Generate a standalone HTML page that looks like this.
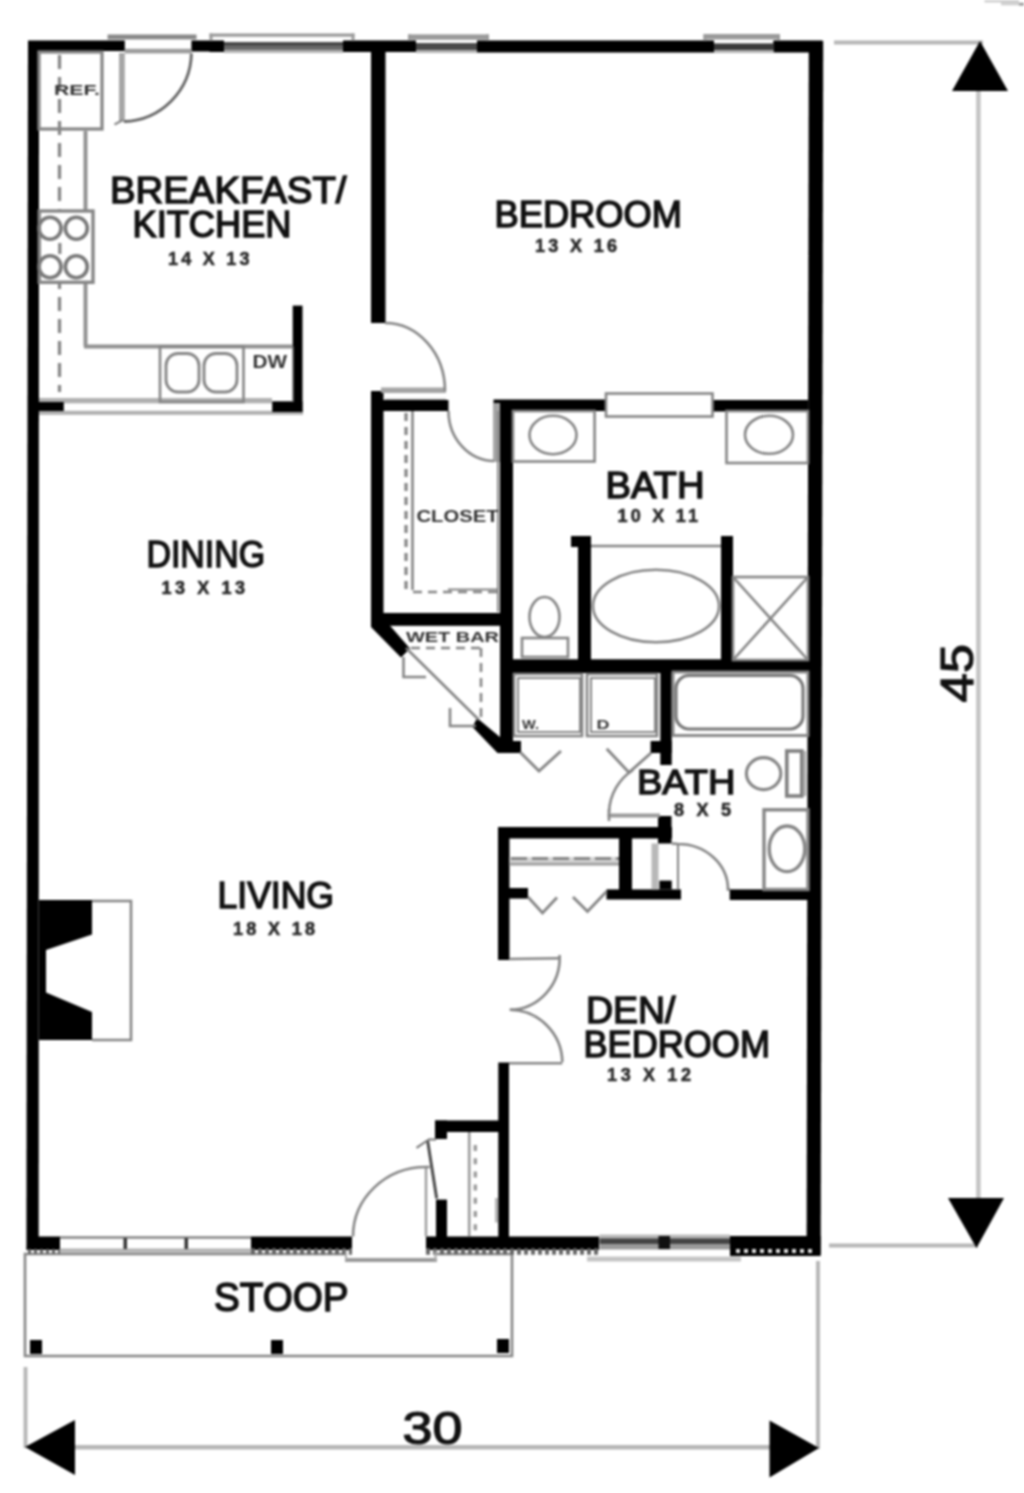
<!DOCTYPE html>
<html lang="en"><head><meta charset="utf-8"><title>Floor plan</title>
<style>
html,body{margin:0;padding:0;background:#fff}
svg{display:block;font-family:"Liberation Sans",sans-serif;filter:blur(0.8px)}
</style></head><body>
<svg width="1024" height="1493" viewBox="0 0 1024 1493">
<rect width="1024" height="1493" fill="#fff"/>
<line x1="834" y1="42.5" x2="983" y2="42.5" stroke="#b6b6b6" stroke-width="3.9" stroke-linecap="butt"/>
<line x1="978.4" y1="60" x2="978.4" y2="1230" stroke="#c4c4c4" stroke-width="4.55" stroke-linecap="butt"/>
<line x1="829" y1="1245.5" x2="978" y2="1245.5" stroke="#b6b6b6" stroke-width="3.9" stroke-linecap="butt"/>
<line x1="818" y1="1261" x2="818" y2="1449" stroke="#b6b6b6" stroke-width="3.9" stroke-linecap="butt"/>
<line x1="25.5" y1="1367" x2="25.5" y2="1448" stroke="#b6b6b6" stroke-width="3.9" stroke-linecap="butt"/>
<line x1="40" y1="1447.2" x2="800" y2="1447.2" stroke="#b6b6b6" stroke-width="4.42" stroke-linecap="butt"/>
<path d="M980,41 L952,91 L1008,91 Z" fill="#000" stroke="none" stroke-width="2.6" />
<path d="M976.5,1248 L948,1198 L1004,1198 Z" fill="#000" stroke="none" stroke-width="2.6" />
<path d="M25,1447 L75,1420 L75,1475 Z" fill="#000" stroke="none" stroke-width="2.6" />
<path d="M819,1448 L769.5,1420.5 L769.5,1477.5 Z" fill="#000" stroke="none" stroke-width="2.6" />
<rect x="984.5" y="0" width="16.5" height="2.5" fill="#cfcfcf" />
<rect x="1001" y="0" width="18" height="5.3" fill="#cfcfcf" />
<rect x="1019" y="2.8" width="5" height="2.8" fill="#999" />
<path d="M345,1254 L25,1254 L25,1356 L512,1356 L512,1254 L437,1254" fill="none" stroke="#858585" stroke-width="2.6" />
<rect x="30" y="1340" width="12" height="14" fill="#000" />
<rect x="271" y="1340" width="12" height="14" fill="#000" />
<rect x="497" y="1339" width="12" height="14" fill="#000" />
<path d="M28,41 L39,41 L38.7,1250 L26.4,1250 Z" fill="#000" stroke="none" stroke-width="2.6" />
<path d="M808.8,41 L823.2,41 L820.7,1254 L806.6,1254 Z" fill="#000" stroke="none" stroke-width="2.6" />
<rect x="28" y="40.5" width="96.8" height="10.5" fill="#000" />
<rect x="191.4" y="40.5" width="32.6" height="11" fill="#000" />
<rect x="343" y="40.5" width="73" height="11.5" fill="#000" />
<rect x="477" y="40.5" width="237" height="12" fill="#000" />
<rect x="773.5" y="40.5" width="49" height="12" fill="#000" />
<rect x="209.5" y="33.5" width="145" height="3.2" fill="#9a9a9a" />
<rect x="209.5" y="33.5" width="3" height="7.5" fill="#9a9a9a" />
<rect x="351.5" y="33.5" width="3" height="7.5" fill="#9a9a9a" />
<rect x="209.5" y="41" width="14.5" height="11" fill="#000" />
<rect x="343" y="41" width="11.5" height="11" fill="#000" />
<rect x="224" y="42.2" width="119" height="7.8" fill="#6a6a6a" />
<rect x="224" y="50" width="119" height="3" fill="#b4b4b4" />
<rect x="224" y="42.2" width="119" height="3.3" fill="#444" />
<rect x="408" y="34.4" width="81" height="5.4" fill="#9a9a9a" />
<rect x="408" y="34.4" width="3" height="6.6" fill="#9a9a9a" />
<rect x="486" y="34.4" width="3" height="6.6" fill="#9a9a9a" />
<rect x="408" y="41" width="8" height="11" fill="#000" />
<rect x="477" y="41" width="12" height="11" fill="#000" />
<rect x="416" y="43" width="61" height="7" fill="#4a4a4a" />
<rect x="416" y="50" width="61" height="3" fill="#b4b4b4" />
<rect x="703.5" y="34" width="76.5" height="5.5" fill="#9a9a9a" />
<rect x="703.5" y="34" width="3" height="7" fill="#9a9a9a" />
<rect x="777" y="34" width="3" height="7" fill="#9a9a9a" />
<rect x="703.5" y="41" width="10.5" height="11" fill="#000" />
<rect x="773.5" y="41" width="6.5" height="11" fill="#000" />
<rect x="714" y="43.4" width="59.5" height="6.6" fill="#3a3a3a" />
<rect x="714" y="50" width="59.5" height="3" fill="#b4b4b4" />
<rect x="107.6" y="34.5" width="88.9" height="4.9" fill="#888" />
<rect x="124.8" y="48.8" width="66.6" height="4.6" fill="#9c9c9c" />
<rect x="28" y="1236.5" width="32" height="13.5" fill="#000" />
<rect x="251" y="1236.5" width="101" height="13.5" fill="#000" />
<rect x="426" y="1236.5" width="173" height="13.5" fill="#000" />
<rect x="730" y="1236" width="90.7" height="20" fill="#000" />
<line x1="60" y1="1237.5" x2="251" y2="1237.5" stroke="#858585" stroke-width="2.6" stroke-linecap="butt"/>
<line x1="60" y1="1250.5" x2="251" y2="1250.5" stroke="#b4b4b4" stroke-width="3.9" stroke-linecap="butt"/>
<rect x="123.5" y="1238" width="3.5" height="11" fill="#333" />
<rect x="184.5" y="1238" width="3.5" height="11" fill="#333" />
<rect x="599.5" y="1234.6" width="130.5" height="3.7" fill="#b8b8b8" />
<rect x="599.5" y="1238.3" width="130.5" height="6.1" fill="#444" />
<rect x="599.5" y="1244.4" width="130.5" height="5.1" fill="#999" />
<rect x="658.5" y="1236" width="11.5" height="13" fill="#111" />
<rect x="587" y="1256.6" width="154" height="4.9" fill="#c4c4c4" />
<line x1="28" y1="1251.5" x2="60" y2="1251.5" stroke="#666" stroke-width="5.2" stroke-dasharray="3 3" stroke-linecap="butt"/>
<line x1="251" y1="1251.5" x2="352" y2="1251.5" stroke="#666" stroke-width="6.5" stroke-dasharray="4 3" stroke-linecap="butt"/>
<line x1="426" y1="1251.5" x2="599" y2="1251.5" stroke="#666" stroke-width="6.5" stroke-dasharray="4 3" stroke-linecap="butt"/>
<line x1="736" y1="1251" x2="815" y2="1251" stroke="#ddd" stroke-width="4.16" stroke-dasharray="4 4" stroke-linecap="butt"/>
<line x1="345" y1="1260" x2="437" y2="1260" stroke="#999" stroke-width="4.16" stroke-linecap="butt"/>
<line x1="346" y1="1250" x2="346" y2="1260" stroke="#aaa" stroke-width="2.08" stroke-linecap="butt"/>
<line x1="435.5" y1="1251" x2="435.5" y2="1261" stroke="#aaa" stroke-width="2.08" stroke-linecap="butt"/>
<rect x="371" y="51" width="14.5" height="272" fill="#000" />
<rect x="39" y="398" width="233" height="5.3" fill="#b0b0b0" />
<rect x="39" y="410.8" width="264" height="4" fill="#b0b0b0" />
<rect x="28" y="402" width="35.8" height="9" fill="#000" />
<rect x="272.2" y="401.3" width="30.3" height="10.7" fill="#000" />
<rect x="292.7" y="305.6" width="9.8" height="106.4" fill="#000" />
<rect x="371" y="400" width="77.5" height="11" fill="#000" />
<rect x="371" y="391" width="12.5" height="225" fill="#000" />
<rect x="371" y="613" width="141" height="12.8" fill="#000" />
<rect x="500" y="400" width="13" height="353" fill="#000" />
<rect x="493.5" y="399.5" width="112.5" height="11.5" fill="#000" />
<rect x="712.5" y="400" width="95.5" height="11.5" fill="#000" />
<rect x="500" y="659.3" width="308" height="13.7" fill="#000" />
<rect x="578" y="536" width="13" height="124" fill="#000" />
<rect x="571" y="536" width="20" height="11" fill="#000" />
<rect x="721" y="536" width="12" height="124" fill="#000" />
<rect x="660.3" y="672" width="11.4" height="93" fill="#000" />
<rect x="650.6" y="741" width="21.1" height="12" fill="#000" />
<rect x="498" y="827" width="174" height="11.5" fill="#000" />
<rect x="658" y="816" width="13.5" height="27.5" fill="#000" />
<rect x="498" y="827" width="11.5" height="133" fill="#000" />
<rect x="498.3" y="1062.5" width="10.7" height="174.5" fill="#000" />
<rect x="619" y="838" width="13" height="61" fill="#000" />
<rect x="498" y="888" width="30" height="10.6" fill="#000" />
<rect x="606.5" y="889.4" width="74.5" height="10.1" fill="#000" />
<rect x="729.7" y="889.4" width="78.3" height="10.6" fill="#000" />
<rect x="435" y="1120.5" width="65" height="11.5" fill="#000" />
<rect x="435" y="1120.5" width="12" height="18.5" fill="#000" />
<rect x="436" y="1199.6" width="11" height="37.4" fill="#000" />
<path d="M371,604 L371,627 L401,657.5 L410,648.5 Z" fill="#000" stroke="none" stroke-width="2.6" />
<path d="M477,718 L472.5,727 L497.5,753 L521,753 L521,741 L513,741 L513,737 L500.5,737.5 Z" fill="#000" stroke="none" stroke-width="2.6" />
<line x1="406" y1="648" x2="479" y2="720" stroke="#858585" stroke-width="2.6" stroke-linecap="butt"/>
<rect x="39" y="52" width="63" height="77" rx="0" fill="none" stroke="#858585" stroke-width="3.25"/>
<line x1="59.5" y1="55" x2="59.5" y2="392" stroke="#858585" stroke-width="3.25" stroke-dasharray="14 8" stroke-linecap="butt"/>
<line x1="85.5" y1="131" x2="85.5" y2="346.5" stroke="#909090" stroke-width="3.9" stroke-linecap="butt"/>
<line x1="84" y1="346.5" x2="293" y2="346.5" stroke="#909090" stroke-width="4.16" stroke-linecap="butt"/>
<rect x="39.3" y="211" width="53.7" height="71.3" rx="0" fill="#fff" stroke="#858585" stroke-width="3.38"/>
<line x1="59.8" y1="243" x2="59.8" y2="254" stroke="#858585" stroke-width="3.25" stroke-linecap="butt"/>
<ellipse cx="50" cy="228.3" rx="11" ry="11" fill="none" stroke="#787878" stroke-width="3.64"/>
<ellipse cx="50" cy="266.7" rx="11" ry="11" fill="none" stroke="#787878" stroke-width="3.64"/>
<ellipse cx="76.3" cy="228.3" rx="11" ry="11" fill="none" stroke="#787878" stroke-width="3.64"/>
<ellipse cx="76.3" cy="266.7" rx="11" ry="11" fill="none" stroke="#787878" stroke-width="3.64"/>
<rect x="160" y="346.5" width="83.5" height="55.5" rx="0" fill="none" stroke="#858585" stroke-width="2.6"/>
<rect x="166" y="353.5" width="33" height="38.5" rx="12" fill="none" stroke="#858585" stroke-width="2.86"/>
<rect x="204" y="353.5" width="33" height="38.5" rx="12" fill="none" stroke="#858585" stroke-width="2.86"/>
<line x1="293" y1="346.5" x2="293" y2="402" stroke="#858585" stroke-width="1.3" stroke-linecap="butt"/>
<rect x="119" y="53" width="5.8" height="68.5" fill="#a6a6a6" />
<path d="M124,121.5 A69.5,69.5 0 0,0 191.4,53.5" fill="none" stroke="#666" stroke-width="2.86" />
<line x1="114.5" y1="124.5" x2="123" y2="120" stroke="#888" stroke-width="2.34" stroke-linecap="butt"/>
<rect x="381" y="387.5" width="65" height="5.5" fill="#a4a4a4" />
<line x1="385" y1="399.2" x2="446" y2="399.2" stroke="#bbb" stroke-width="1.56" stroke-linecap="butt"/>
<path d="M385,323 A60,68 0 0,1 445,391" fill="none" stroke="#858585" stroke-width="2.6" />
<rect x="493" y="403" width="7" height="59" fill="#a4a4a4" />
<path d="M494,461 A46,50 0 0,1 448.5,411" fill="none" stroke="#858585" stroke-width="2.6" />
<line x1="406" y1="413" x2="406" y2="590" stroke="#858585" stroke-width="3.25" stroke-dasharray="8 6" stroke-linecap="butt"/>
<line x1="412.5" y1="411" x2="412.5" y2="590" stroke="#858585" stroke-width="2.6" stroke-linecap="butt"/>
<line x1="413" y1="592" x2="497" y2="592" stroke="#858585" stroke-width="2.6" stroke-dasharray="9 6" stroke-linecap="butt"/>
<line x1="448" y1="589.5" x2="497" y2="589.5" stroke="#858585" stroke-width="1.95" stroke-linecap="butt"/>
<line x1="498" y1="411" x2="498" y2="612" stroke="#858585" stroke-width="1.95" stroke-linecap="butt"/>
<line x1="411" y1="648" x2="481" y2="648" stroke="#858585" stroke-width="2.6" stroke-dasharray="9 6" stroke-linecap="butt"/>
<line x1="481" y1="648" x2="481" y2="717" stroke="#858585" stroke-width="2.6" stroke-dasharray="9 6" stroke-linecap="butt"/>
<path d="M403.5,657 L403.5,677 L426,677" fill="none" stroke="#858585" stroke-width="2.6" />
<path d="M450,708 L450,726 L476,726" fill="none" stroke="#858585" stroke-width="2.6" />
<rect x="606" y="393.5" width="106.5" height="23" rx="0" fill="#fff" stroke="#858585" stroke-width="2.6"/>
<rect x="513" y="411" width="81.6" height="50.5" rx="0" fill="none" stroke="#858585" stroke-width="2.6"/>
<ellipse cx="553" cy="435" rx="23.5" ry="19.2" fill="none" stroke="#858585" stroke-width="2.6"/>
<rect x="726.5" y="411" width="81.5" height="52" rx="0" fill="none" stroke="#858585" stroke-width="2.6"/>
<ellipse cx="769" cy="434.8" rx="24" ry="19" fill="none" stroke="#858585" stroke-width="2.6"/>
<line x1="591" y1="546" x2="721" y2="546" stroke="#858585" stroke-width="2.6" stroke-linecap="butt"/>
<ellipse cx="656" cy="606" rx="63" ry="36.3" fill="none" stroke="#858585" stroke-width="2.6"/>
<rect x="733" y="577" width="75" height="83" rx="0" fill="none" stroke="#858585" stroke-width="2.6"/>
<line x1="733" y1="577" x2="808" y2="660" stroke="#858585" stroke-width="2.6" stroke-linecap="butt"/>
<line x1="808" y1="577" x2="733" y2="660" stroke="#858585" stroke-width="2.6" stroke-linecap="butt"/>
<ellipse cx="544.5" cy="617" rx="15" ry="20" fill="none" stroke="#858585" stroke-width="2.6"/>
<rect x="522" y="638" width="46" height="19" rx="0" fill="none" stroke="#858585" stroke-width="2.6"/>
<rect x="514" y="674" width="68" height="62" rx="0" fill="none" stroke="#858585" stroke-width="2.6"/>
<rect x="518" y="678" width="62" height="54" rx="0" fill="none" stroke="#858585" stroke-width="1.95"/>
<rect x="587" y="674" width="70" height="62" rx="0" fill="none" stroke="#858585" stroke-width="2.6"/>
<rect x="591" y="678" width="64" height="54" rx="0" fill="none" stroke="#858585" stroke-width="1.95"/>
<path d="M520,752 L539,771 L561,751" fill="none" stroke="#858585" stroke-width="2.86" />
<path d="M606.7,748.8 L629,772.5 L651,753" fill="none" stroke="#858585" stroke-width="2.86" />
<rect x="673" y="672" width="135" height="63.5" rx="0" fill="none" stroke="#858585" stroke-width="2.86"/>
<rect x="676" y="675.5" width="127" height="53.5" rx="13" fill="none" stroke="#777" stroke-width="3.12"/>
<ellipse cx="763.6" cy="773.6" rx="17.2" ry="16" fill="none" stroke="#858585" stroke-width="3.12"/>
<rect x="786.8" y="751" width="15" height="45" rx="0" fill="none" stroke="#808080" stroke-width="3.64"/>
<line x1="805" y1="751" x2="805" y2="796" stroke="#aaa" stroke-width="2.08" stroke-linecap="butt"/>
<rect x="764" y="809.8" width="44" height="79.7" rx="0" fill="none" stroke="#858585" stroke-width="3.38"/>
<ellipse cx="787" cy="848.8" rx="17.8" ry="22.8" fill="none" stroke="#858585" stroke-width="3.38"/>
<line x1="607.6" y1="815.5" x2="660" y2="815.5" stroke="#9a9a9a" stroke-width="3.9" stroke-linecap="butt"/>
<line x1="609" y1="809" x2="609" y2="821" stroke="#858585" stroke-width="2.6" stroke-linecap="butt"/>
<path d="M609,812 A51,52 0 0,1 633,770" fill="none" stroke="#858585" stroke-width="2.6" />
<rect x="651.5" y="843.5" width="7" height="45.9" fill="#b8b8b8" />
<line x1="678" y1="843.7" x2="678" y2="889.4" stroke="#858585" stroke-width="2.08" stroke-linecap="butt"/>
<rect x="659.4" y="880.6" width="12.3" height="8.8" fill="#000" />
<path d="M671.7,843.5 L678,844 A50,45.5 0 0,1 728,889.4 L730,889.4" fill="none" stroke="#858585" stroke-width="2.6" />
<rect x="509.5" y="857" width="109.5" height="9" fill="#d4d4d4" />
<line x1="511" y1="858.5" x2="619" y2="858.5" stroke="#858585" stroke-width="2.86" stroke-dasharray="16 5" stroke-linecap="butt"/>
<line x1="509.5" y1="864" x2="619" y2="864" stroke="#a0a0a0" stroke-width="2.6" stroke-linecap="butt"/>
<path d="M528,897 L542.5,913 L557,897.5" fill="none" stroke="#858585" stroke-width="2.86" />
<path d="M573,897 L587.5,911.5 L606.5,891.5" fill="none" stroke="#858585" stroke-width="2.86" />
<line x1="509" y1="959" x2="559.6" y2="958.3" stroke="#858585" stroke-width="2.6" stroke-linecap="butt"/>
<path d="M559.6,955 A50.5,52 0 0,1 509.8,1009.8" fill="none" stroke="#858585" stroke-width="2.6" />
<line x1="509" y1="1063.2" x2="562.3" y2="1063.2" stroke="#858585" stroke-width="2.6" stroke-linecap="butt"/>
<path d="M562.3,1062 A53,53 0 0,0 509.8,1009.8" fill="none" stroke="#858585" stroke-width="2.6" />
<line x1="469.2" y1="1132" x2="469.2" y2="1236" stroke="#999" stroke-width="2.6" stroke-linecap="butt"/>
<line x1="475.3" y1="1145" x2="475.3" y2="1236" stroke="#999" stroke-width="3.38" stroke-dasharray="6 7.2" stroke-linecap="butt"/>
<line x1="496.4" y1="1198" x2="496.4" y2="1222.5" stroke="#aaa" stroke-width="2.6" stroke-linecap="butt"/>
<line x1="427.5" y1="1140" x2="436.7" y2="1198.5" stroke="#444" stroke-width="2.86" stroke-linecap="butt"/>
<line x1="416.5" y1="1147.8" x2="428" y2="1140" stroke="#777" stroke-width="2.08" stroke-linecap="butt"/>
<line x1="428" y1="1139.5" x2="436" y2="1139.5" stroke="#777" stroke-width="2.08" stroke-linecap="butt"/>
<line x1="426" y1="1168" x2="426" y2="1236.5" stroke="#999" stroke-width="2.34" stroke-linecap="butt"/>
<path d="M429.6,1167 L426,1167 A73,69.5 0 0,0 353,1236.5" fill="none" stroke="#858585" stroke-width="2.6" />
<path d="M39,900 L92,900 L92,934.5 L46,950 L46,992.5 L92,1012 L92,1040 L39,1040 Z" fill="#000" stroke="none" stroke-width="2.6" />
<path d="M92,901 L131,901 L131,1040 L92,1040" fill="none" stroke="#858585" stroke-width="2.6" />
<text x="54" y="94.5" font-size="15" font-weight="bold" fill="#333" textLength="46" lengthAdjust="spacingAndGlyphs">REF.</text>
<text x="110" y="203" font-size="36" font-weight="normal" fill="#111" textLength="236.5" lengthAdjust="spacingAndGlyphs" stroke="#111" stroke-width="1.5">BREAKFAST/</text>
<text x="132.5" y="237" font-size="36" font-weight="normal" fill="#111" textLength="159" lengthAdjust="spacingAndGlyphs" stroke="#111" stroke-width="1.5">KITCHEN</text>
<text x="168" y="264.5" font-size="18" font-weight="bold" fill="#2a2a2a" textLength="81.5" lengthAdjust="spacing" stroke="#2a2a2a" stroke-width="0.6">14 X 13</text>
<text x="252.5" y="367.5" font-size="18" font-weight="bold" fill="#333" textLength="34.5" lengthAdjust="spacingAndGlyphs">DW</text>
<text x="494.5" y="227" font-size="36" font-weight="normal" fill="#111" textLength="187.5" lengthAdjust="spacingAndGlyphs" stroke="#111" stroke-width="1.5">BEDROOM</text>
<text x="535" y="251.5" font-size="18" font-weight="bold" fill="#2a2a2a" textLength="82" lengthAdjust="spacing" stroke="#2a2a2a" stroke-width="0.6">13 X 16</text>
<text x="416.5" y="521.5" font-size="16" font-weight="bold" fill="#333" textLength="82" lengthAdjust="spacingAndGlyphs">CLOSET</text>
<text x="605.5" y="497.5" font-size="36" font-weight="normal" fill="#111" textLength="99" lengthAdjust="spacingAndGlyphs" stroke="#111" stroke-width="1.5">BATH</text>
<text x="617.5" y="521.5" font-size="18" font-weight="bold" fill="#2a2a2a" textLength="80.5" lengthAdjust="spacing" stroke="#2a2a2a" stroke-width="0.6">10 X 11</text>
<text x="146.5" y="567" font-size="36" font-weight="normal" fill="#111" textLength="118.5" lengthAdjust="spacingAndGlyphs" stroke="#111" stroke-width="1.5">DINING</text>
<text x="161.5" y="593.5" font-size="18" font-weight="bold" fill="#2a2a2a" textLength="83.5" lengthAdjust="spacing" stroke="#2a2a2a" stroke-width="0.6">13 X 13</text>
<text x="406" y="641.5" font-size="15.5" font-weight="bold" fill="#333" textLength="93" lengthAdjust="spacingAndGlyphs">WET BAR</text>
<text x="522" y="728.5" font-size="13" font-weight="bold" fill="#333" textLength="17" lengthAdjust="spacingAndGlyphs">W.</text>
<text x="596.5" y="728.5" font-size="13" font-weight="bold" fill="#333" textLength="13" lengthAdjust="spacingAndGlyphs">D</text>
<text x="637" y="793.5" font-size="35.5" font-weight="normal" fill="#111" textLength="98.5" lengthAdjust="spacingAndGlyphs" stroke="#111" stroke-width="1.5">BATH</text>
<text x="674" y="816" font-size="18" font-weight="bold" fill="#2a2a2a" textLength="57" lengthAdjust="spacing" stroke="#2a2a2a" stroke-width="0.6">8 X 5</text>
<text x="217.5" y="908" font-size="36" font-weight="normal" fill="#111" textLength="116.5" lengthAdjust="spacingAndGlyphs" stroke="#111" stroke-width="1.5">LIVING</text>
<text x="233" y="934.5" font-size="18" font-weight="bold" fill="#2a2a2a" textLength="82" lengthAdjust="spacing" stroke="#2a2a2a" stroke-width="0.6">18 X 18</text>
<text x="586" y="1022.5" font-size="36" font-weight="normal" fill="#111" textLength="89.5" lengthAdjust="spacingAndGlyphs" stroke="#111" stroke-width="1.5">DEN/</text>
<text x="583.5" y="1057" font-size="36" font-weight="normal" fill="#111" textLength="186.5" lengthAdjust="spacingAndGlyphs" stroke="#111" stroke-width="1.5">BEDROOM</text>
<text x="607" y="1080.5" font-size="18" font-weight="bold" fill="#2a2a2a" textLength="84" lengthAdjust="spacing" stroke="#2a2a2a" stroke-width="0.6">13 X 12</text>
<text x="214" y="1310.5" font-size="40" font-weight="normal" fill="#111" textLength="134.5" lengthAdjust="spacingAndGlyphs" stroke="#111" stroke-width="1.5">STOOP</text>
<text x="402.5" y="1444" font-size="46" font-weight="normal" fill="#111" textLength="60" lengthAdjust="spacingAndGlyphs" stroke="#111" stroke-width="1.2">30</text>
<g transform="translate(972.6,701.6) rotate(-90)">
<text x="-1" y="0" font-size="46" font-weight="normal" fill="#111" textLength="58.5" lengthAdjust="spacingAndGlyphs" stroke="#111" stroke-width="1.2">45</text>
</g>
</svg>
</body></html>
